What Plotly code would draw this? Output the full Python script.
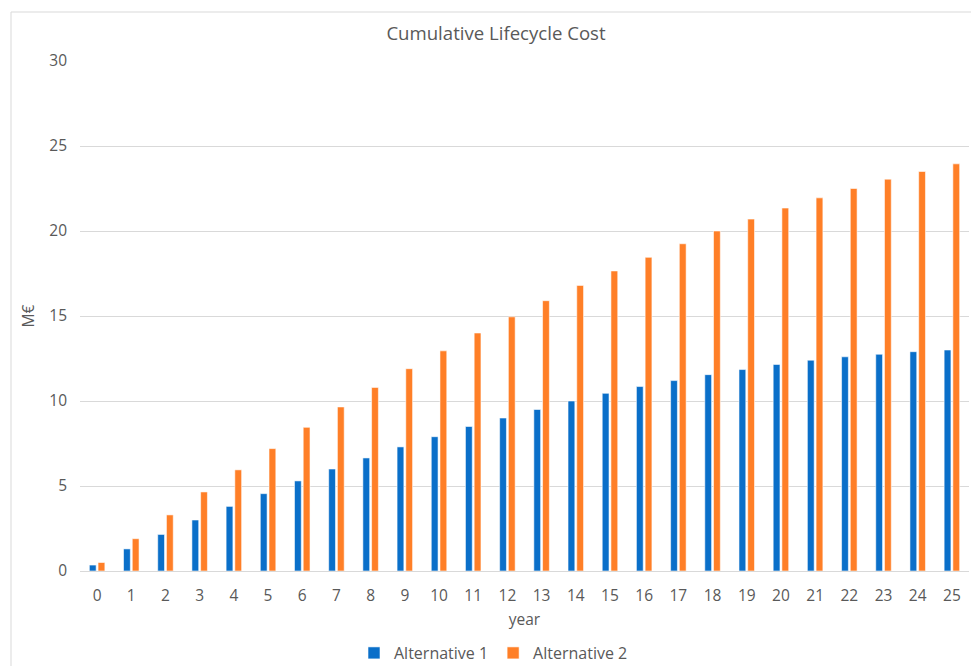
import plotly.graph_objects as go

years = [str(i) for i in range(26)]
alt1 = [0.35, 1.3, 2.15, 3.0, 3.8, 4.55, 5.3, 6.0, 6.65, 7.3, 7.9, 8.5, 9.0, 9.5, 10.0,
        10.45, 10.85, 11.2, 11.55, 11.85, 12.15, 12.4, 12.6, 12.75, 12.9, 13.0]
alt2 = [0.5, 1.9, 3.3, 4.65, 5.95, 7.2, 8.45, 9.65, 10.8, 11.9, 12.95, 14.0, 14.95, 15.9, 16.8,
        17.65, 18.45, 19.25, 20.0, 20.7, 21.35, 21.95, 22.5, 23.05, 23.5, 23.95]
yticks = [0, 5, 10, 15, 20, 25, 30]

BLUE = "#0A6FC9"
ORANGE = "#FF7F27"
FONT = "Open Sans"
GREY = "#595959"

fig = go.Figure()
fig.add_trace(go.Bar(x=years, y=alt1, name="Alternative 1", marker=dict(color=BLUE, line=dict(color="rgba(255,255,255,0.7)", width=0.8))))
fig.add_trace(go.Bar(x=years, y=alt2, name="Alternative 2", marker=dict(color=ORANGE, line=dict(color="rgba(255,255,255,0.7)", width=0.8))))

W, H = 971, 666
L, R, T, B = 80, 2, 61, 95
pw, ph = W - L - R, H - T - B

fig.update_layout(
    width=W, height=H,
    margin=dict(l=L, r=R, t=T, b=B, autoexpand=False),
    paper_bgcolor="white", plot_bgcolor="white",
    barmode="group", bargap=0.49, bargroupgap=0.22,
    font=dict(family=FONT, color=GREY, size=15),
    title=dict(text="Cumulative Lifecycle Cost", x=496 / W, xref="container", xanchor="center",
               y=1 - 33 / H, yanchor="middle", font=dict(size=18.6, color=GREY, family=FONT)),
    xaxis=dict(type="category", showgrid=False, showline=True, linecolor="#D9D9D9", linewidth=1,
               ticks="", tickfont=dict(size=15.5, color=GREY), ticklabelstandoff=10,
               title=dict(text="year", font=dict(size=15.5, color=GREY), standoff=9)),
    yaxis=dict(range=[0, 30], tickvals=yticks, showgrid=True, gridcolor="#D9D9D9", gridwidth=1,
               zeroline=False, showline=False, ticks="", tickfont=dict(size=15.5, color=GREY),
               ticklabelstandoff=12,
               title=dict(text="M€", font=dict(size=15.5, color=GREY), standoff=10)),
    legend=dict(orientation="h", xref="container", yref="container", x=354 / W, xanchor="left",
                y=1 - 653 / H, yanchor="middle",
                font=dict(size=16, color=GREY), itemwidth=30, traceorder="normal"),
    showlegend=True,
)

# chart border
fig.add_shape(type="rect", xref="paper", yref="paper",
              x0=(11 - L) / pw, x1=(W + 5 - L) / pw,
              y0=-(H + 5 - T - ph) / ph, y1=1 + (T - 12) / ph,
              line=dict(color="#D9D9D9", width=1), fillcolor="rgba(0,0,0,0)", layer="below")

fig.write_html("out.html")
